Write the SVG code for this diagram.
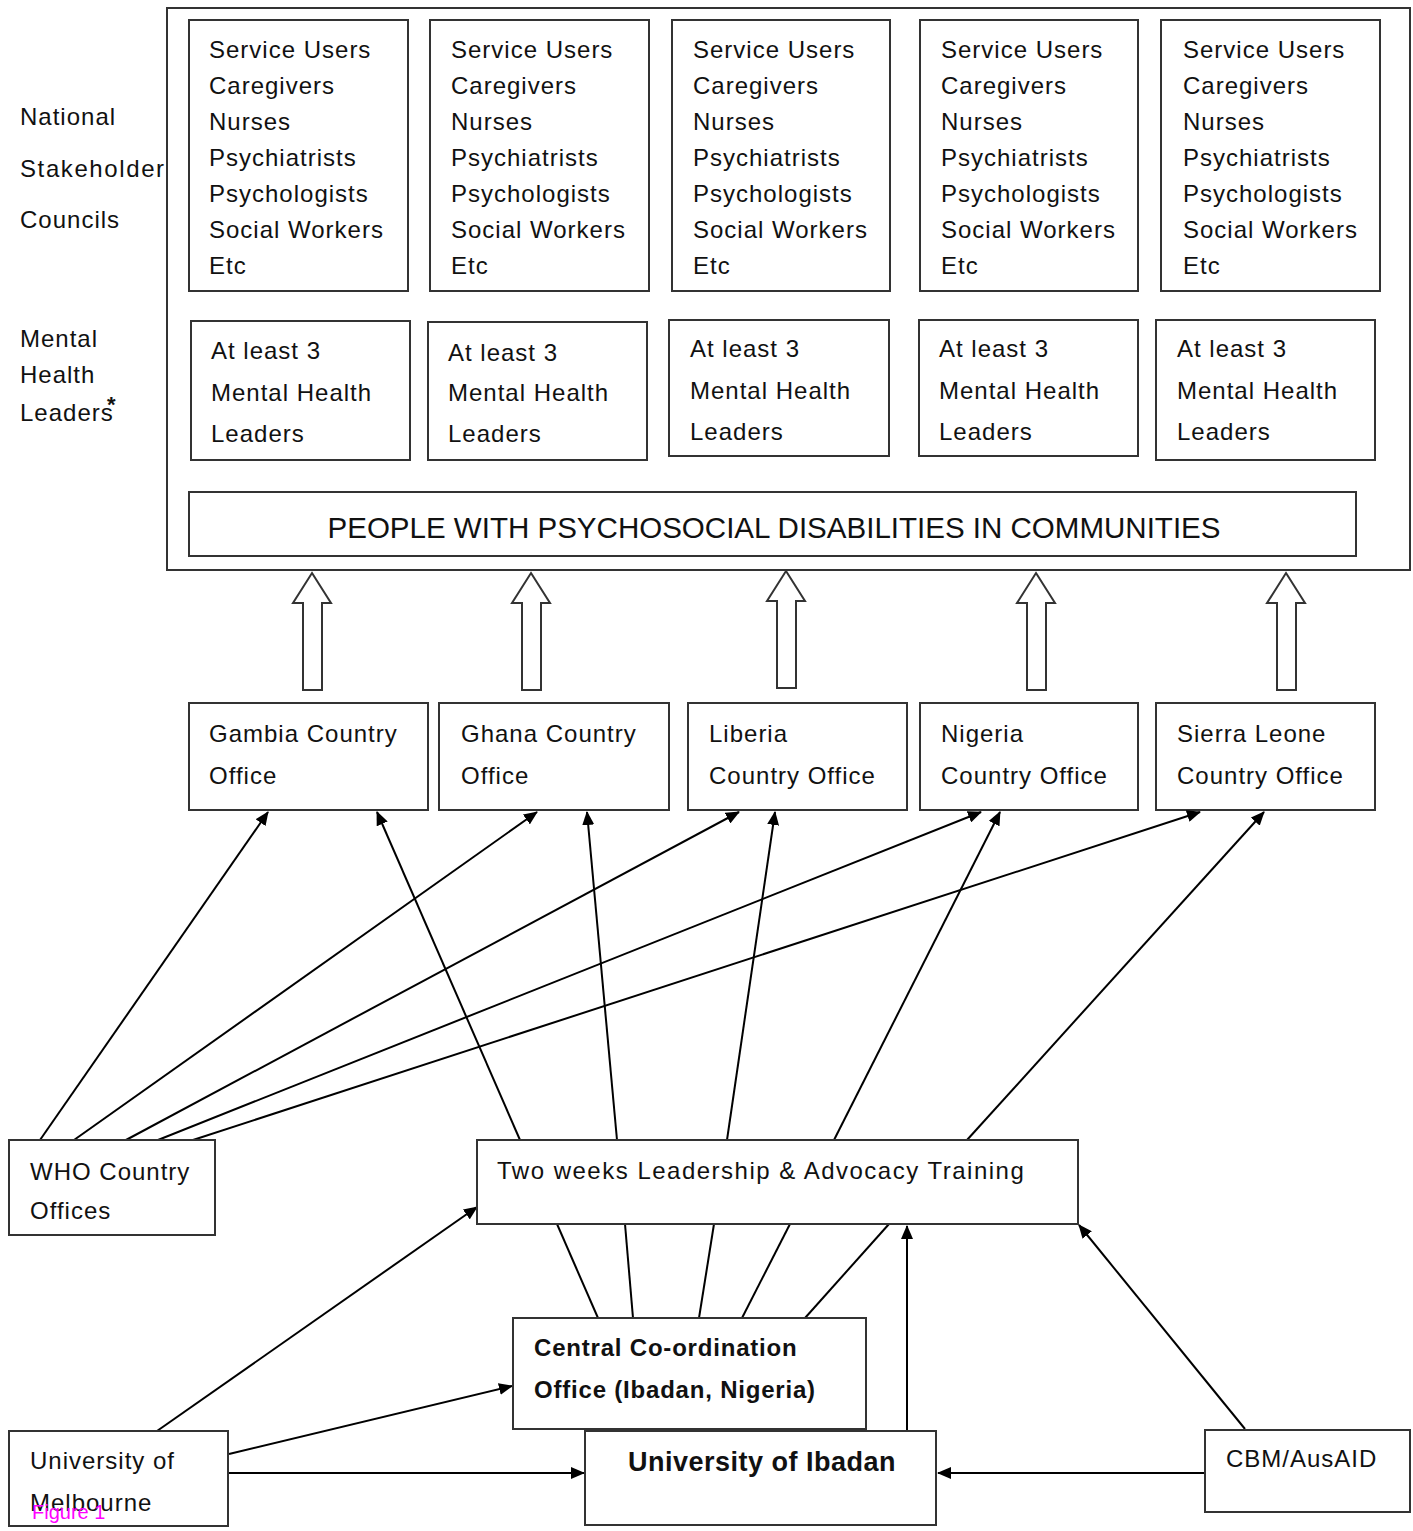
<svg xmlns="http://www.w3.org/2000/svg" width="1413" height="1531" viewBox="0 0 1413 1531">
<style>
.box{fill:#fff;stroke:#333;stroke-width:2}
.t{font-family:"Liberation Sans",Arial,sans-serif;font-size:24px;fill:#111;letter-spacing:1px}
.b{font-weight:bold;letter-spacing:0.8px}
.ln{stroke:#000;stroke-width:2;fill:none}
.arr{marker-end:url(#ah)}
.blk{fill:#fff;stroke:#333;stroke-width:2}
</style>
<defs>
<marker id="ah" markerUnits="userSpaceOnUse" markerWidth="14" markerHeight="12" refX="13" refY="6" orient="auto">
<path d="M0,0 L14,6 L0,12 z" fill="#000"/>
</marker>
</defs>
<rect width="1413" height="1531" fill="#fff"/>

<g id="side-labels" class="t">
<text x="20" y="125">National</text>
<text x="20" y="177" style="letter-spacing:1.6px">Stakeholder</text>
<text x="20" y="228">Councils</text>
<text x="20" y="347">Mental</text>
<text x="20" y="383">Health</text>
<text x="20" y="421">Leaders</text>
<text x="107" y="412" style="font-size:22px;font-weight:bold">*</text>
</g>

<g id="outer">
<rect class="box" x="167" y="8" width="1243" height="562"/>
</g>

<g id="stakeholders">
<g id="stk1"><rect class="box" x="189" y="20" width="219" height="271"/>
<text class="t" x="209" y="58">Service Users</text><text class="t" x="209" y="94">Caregivers</text><text class="t" x="209" y="130">Nurses</text><text class="t" x="209" y="166">Psychiatrists</text><text class="t" x="209" y="202">Psychologists</text><text class="t" x="209" y="238">Social Workers</text><text class="t" x="209" y="274">Etc</text></g>
<g id="stk2"><rect class="box" x="430" y="20" width="219" height="271"/>
<text class="t" x="451" y="58">Service Users</text><text class="t" x="451" y="94">Caregivers</text><text class="t" x="451" y="130">Nurses</text><text class="t" x="451" y="166">Psychiatrists</text><text class="t" x="451" y="202">Psychologists</text><text class="t" x="451" y="238">Social Workers</text><text class="t" x="451" y="274">Etc</text></g>
<g id="stk3"><rect class="box" x="672" y="20" width="218" height="271"/>
<text class="t" x="693" y="58">Service Users</text><text class="t" x="693" y="94">Caregivers</text><text class="t" x="693" y="130">Nurses</text><text class="t" x="693" y="166">Psychiatrists</text><text class="t" x="693" y="202">Psychologists</text><text class="t" x="693" y="238">Social Workers</text><text class="t" x="693" y="274">Etc</text></g>
<g id="stk4"><rect class="box" x="920" y="20" width="218" height="271"/>
<text class="t" x="941" y="58">Service Users</text><text class="t" x="941" y="94">Caregivers</text><text class="t" x="941" y="130">Nurses</text><text class="t" x="941" y="166">Psychiatrists</text><text class="t" x="941" y="202">Psychologists</text><text class="t" x="941" y="238">Social Workers</text><text class="t" x="941" y="274">Etc</text></g>
<g id="stk5"><rect class="box" x="1161" y="20" width="219" height="271"/>
<text class="t" x="1183" y="58">Service Users</text><text class="t" x="1183" y="94">Caregivers</text><text class="t" x="1183" y="130">Nurses</text><text class="t" x="1183" y="166">Psychiatrists</text><text class="t" x="1183" y="202">Psychologists</text><text class="t" x="1183" y="238">Social Workers</text><text class="t" x="1183" y="274">Etc</text></g>
</g>

<g id="leaders">
<g id="ldr1"><rect class="box" x="191" y="321" width="219" height="139"/>
<text class="t" x="211" y="359">At least 3</text><text class="t" x="211" y="401">Mental Health</text><text class="t" x="211" y="442">Leaders</text></g>
<g id="ldr2"><rect class="box" x="428" y="322" width="219" height="138"/>
<text class="t" x="448" y="361">At least 3</text><text class="t" x="448" y="401">Mental Health</text><text class="t" x="448" y="442">Leaders</text></g>
<g id="ldr3"><rect class="box" x="669" y="320" width="220" height="136"/>
<text class="t" x="690" y="357">At least 3</text><text class="t" x="690" y="399">Mental Health</text><text class="t" x="690" y="440">Leaders</text></g>
<g id="ldr4"><rect class="box" x="919" y="320" width="219" height="136"/>
<text class="t" x="939" y="357">At least 3</text><text class="t" x="939" y="399">Mental Health</text><text class="t" x="939" y="440">Leaders</text></g>
<g id="ldr5"><rect class="box" x="1156" y="320" width="219" height="140"/>
<text class="t" x="1177" y="357">At least 3</text><text class="t" x="1177" y="399">Mental Health</text><text class="t" x="1177" y="440">Leaders</text></g>
</g>

<g id="people">
<rect class="box" x="189" y="492" width="1167" height="64"/>
<text class="t" x="774" y="538" text-anchor="middle" style="font-size:29px;letter-spacing:0" textLength="893" lengthAdjust="spacingAndGlyphs">PEOPLE WITH PSYCHOSOCIAL DISABILITIES IN COMMUNITIES</text>
</g>

<g id="block-arrows">
<polygon class="blk" points="312,573 331,603 322,603 322,690 303,690 303,603 293,603"/>
<polygon class="blk" points="531,573 550,603 541,603 541,690 522,690 522,603 512,603"/>
<polygon class="blk" points="786,571 805,601 796,601 796,688 777,688 777,601 767,601"/>
<polygon class="blk" points="1036,573 1055,603 1046,603 1046,690 1027,690 1027,603 1017,603"/>
<polygon class="blk" points="1286,573 1305,603 1296,603 1296,690 1277,690 1277,603 1267,603"/>
</g>

<g id="country-offices">
<g id="gambia"><rect class="box" x="189" y="703" width="239" height="107"/>
<text class="t" x="209" y="742">Gambia Country</text><text class="t" x="209" y="784">Office</text></g>
<g id="ghana"><rect class="box" x="439" y="703" width="230" height="107"/>
<text class="t" x="461" y="742">Ghana Country</text><text class="t" x="461" y="784">Office</text></g>
<g id="liberia"><rect class="box" x="688" y="703" width="219" height="107"/>
<text class="t" x="709" y="742">Liberia</text><text class="t" x="709" y="784">Country Office</text></g>
<g id="nigeria"><rect class="box" x="920" y="703" width="218" height="107"/>
<text class="t" x="941" y="742">Nigeria</text><text class="t" x="941" y="784">Country Office</text></g>
<g id="sierra-leone"><rect class="box" x="1156" y="703" width="219" height="107"/>
<text class="t" x="1177" y="742">Sierra Leone</text><text class="t" x="1177" y="784">Country Office</text></g>
</g>

<g id="connectors">
<line class="ln arr" x1="40" y1="1140" x2="268" y2="812"/>
<line class="ln arr" x1="74" y1="1140" x2="537" y2="812"/>
<line class="ln arr" x1="126" y1="1140" x2="739" y2="812"/>
<line class="ln arr" x1="158" y1="1140" x2="981" y2="812"/>
<line class="ln arr" x1="193" y1="1140" x2="1200" y2="812"/>
<line class="ln arr" x1="520" y1="1140" x2="377" y2="812"/>
<line class="ln arr" x1="617" y1="1140" x2="587" y2="812"/>
<line class="ln arr" x1="727" y1="1140" x2="775" y2="812"/>
<line class="ln arr" x1="834" y1="1140" x2="1000" y2="812"/>
<line class="ln arr" x1="967" y1="1140" x2="1264" y2="812"/>
<line class="ln" x1="557" y1="1224" x2="598" y2="1318"/>
<line class="ln" x1="625" y1="1224" x2="633" y2="1318"/>
<line class="ln" x1="714" y1="1224" x2="699" y2="1318"/>
<line class="ln" x1="790" y1="1224" x2="742" y2="1318"/>
<line class="ln" x1="889" y1="1224" x2="805" y2="1318"/>
<line class="ln arr" x1="907" y1="1430" x2="907" y2="1226"/>
<line class="ln arr" x1="157" y1="1431" x2="477" y2="1207"/>
<line class="ln arr" x1="229" y1="1454" x2="512" y2="1386"/>
<line class="ln arr" x1="229" y1="1473" x2="584" y2="1473"/>
<line class="ln arr" x1="1245" y1="1429" x2="1079" y2="1225"/>
<line class="ln arr" x1="1205" y1="1473" x2="938" y2="1473"/>
</g>

<g id="who"><rect class="box" x="9" y="1140" width="206" height="95"/>
<text class="t" x="30" y="1180">WHO Country</text><text class="t" x="30" y="1219">Offices</text></g>

<g id="training"><rect class="box" x="477" y="1140" width="601" height="84"/>
<text class="t" x="497" y="1179" style="letter-spacing:1.5px">Two weeks Leadership &amp; Advocacy Training</text></g>

<g id="central"><rect class="box" x="513" y="1318" width="353" height="111"/>
<text class="t b" x="534" y="1356">Central Co-ordination</text><text class="t b" x="534" y="1398">Office (Ibadan, Nigeria)</text></g>

<g id="ibadan"><rect class="box" x="585" y="1431" width="351" height="94"/>
<text class="t b" x="628" y="1471" style="font-size:27px;letter-spacing:0.5px">University of Ibadan</text></g>

<g id="melbourne"><rect class="box" x="9" y="1431" width="219" height="95"/>
<text class="t" x="30" y="1469">University of</text><text class="t" x="30" y="1511">Melbourne</text></g>

<g id="cbm"><rect class="box" x="1205" y="1430" width="205" height="82"/>
<text class="t" x="1226" y="1467">CBM/AusAID</text></g>

<text x="32" y="1519" style="font-family:'Liberation Sans',Arial,sans-serif;font-size:20px;fill:#ff00ff">Figure 1</text>
</svg>
